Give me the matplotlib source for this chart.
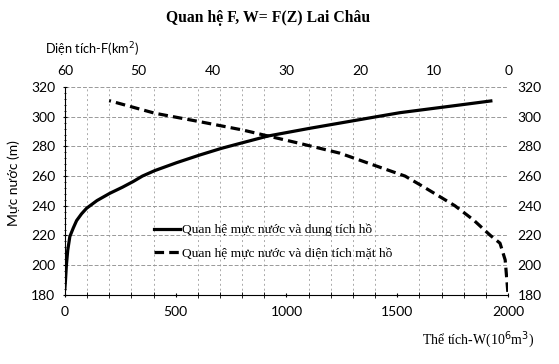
import numpy as np
import matplotlib.pyplot as plt
from matplotlib.ticker import MultipleLocator

# Water level vs storage volume (solid)
vol_z = [184, 190, 200, 210, 219.3, 225, 230, 234.5, 238.3, 243.5, 248.4, 252.5,
         256.3, 260, 263.7, 269, 274.2, 278.7, 282, 287, 292.2, 300, 302.7,
         307.9, 310.6]
vol_w = [0, 3, 7, 13, 22.6, 38, 53, 75, 98, 145, 203, 260,
         308, 350, 406, 504, 609, 707, 790, 917, 1106, 1407, 1512,
         1783, 1922]

# Water level vs surface area (dashed)
area_z = [182, 203.5, 214.8, 220, 230.5, 240, 252.9, 260, 267.5, 275.4, 282,
          287, 291, 296.6, 302.3, 310.8]
area_f = [0.04, 0.4, 1.1, 2.4, 4.7, 7.2, 11.5, 13.95, 18.25, 22.75, 28.2,
          32.5, 35.9, 41.7, 47.8, 54.0]

sans = ['Lato', 'DejaVu Sans']
serif = ['Liberation Serif', 'DejaVu Serif']

fig = plt.figure(figsize=(5.59, 3.64), dpi=100)
ax = fig.add_axes([0.116, 0.19, 0.793, 0.571])

ax.plot(vol_w, vol_z, color='black', lw=2.3, label='Quan hệ mực nước và dung tích hồ')
ax.plot([], [], color='black', lw=2.3, ls=(0, (3, 1.6)), label='Quan hệ mực nước và diện tích mặt hồ')
ax.set_xlim(0, 2000)
ax.set_ylim(180, 320)
ax.xaxis.set_major_locator(MultipleLocator(500))
ax.xaxis.set_minor_locator(MultipleLocator(100))
ax.yaxis.set_major_locator(MultipleLocator(20))
ax.yaxis.set_minor_locator(MultipleLocator(4))
ax.tick_params(axis='both', which='both', direction='inout', labelsize=10)
ax.tick_params(axis='x', which='major', pad=6)
ax.tick_params(axis='y', which='major', pad=5)
ax.tick_params(axis='y', which='both', right=False, labelright=True)
ax.tick_params(axis='x', which='minor', length=5)
ax.grid(True, which='major', axis='y', color='#999999', ls=(0, (4, 2)), lw=0.7)
ax.grid(True, which='minor', axis='x', color='#aaaaaa', ls=(0, (2, 3)), lw=0.7)
for s in ['top', 'right']:
    ax.spines[s].set_visible(False)
for lab in ax.get_xticklabels() + ax.get_yticklabels():
    lab.set_fontfamily(sans)

ax2 = ax.twiny()
ax2.plot(area_f, area_z, color='black', lw=2.3, ls=(0, (3, 1.6)))
ax2.set_xlim(60, 0)
ax2.xaxis.set_major_locator(MultipleLocator(10))
ax2.tick_params(axis='x', length=0, labelsize=10, pad=7)
for s in ['top', 'right', 'left', 'bottom']:
    ax2.spines[s].set_visible(False)
for lab in ax2.get_xticklabels():
    lab.set_fontfamily(sans)

leg = ax.legend(loc='center left', bbox_to_anchor=(0.2, 0.255), frameon=False,
                prop={'family': serif, 'size': 9.7}, handlelength=2.0,
                handletextpad=0.1, labelspacing=0.8, borderaxespad=0, borderpad=0)

fig.text(0.479, 0.95, 'Quan hệ F, W= F(Z) Lai Châu', ha='center', va='center',
         fontsize=11.3, fontweight='bold', family=serif)
fig.text(0.08, 0.863, 'Diện tích-F(km$^2$)', ha='left', va='center',
         fontsize=9.2, family=sans)
fig.text(0.955, 0.066, 'Thể tích-W(10$^6$m$^3$)', ha='right', va='center',
         fontsize=10, family=serif)
fig.text(0.025, 0.497, 'Mực nước (m)', ha='center', va='center', rotation=90,
         fontsize=10, family=sans)

fig.savefig('out.png', dpi=100)
